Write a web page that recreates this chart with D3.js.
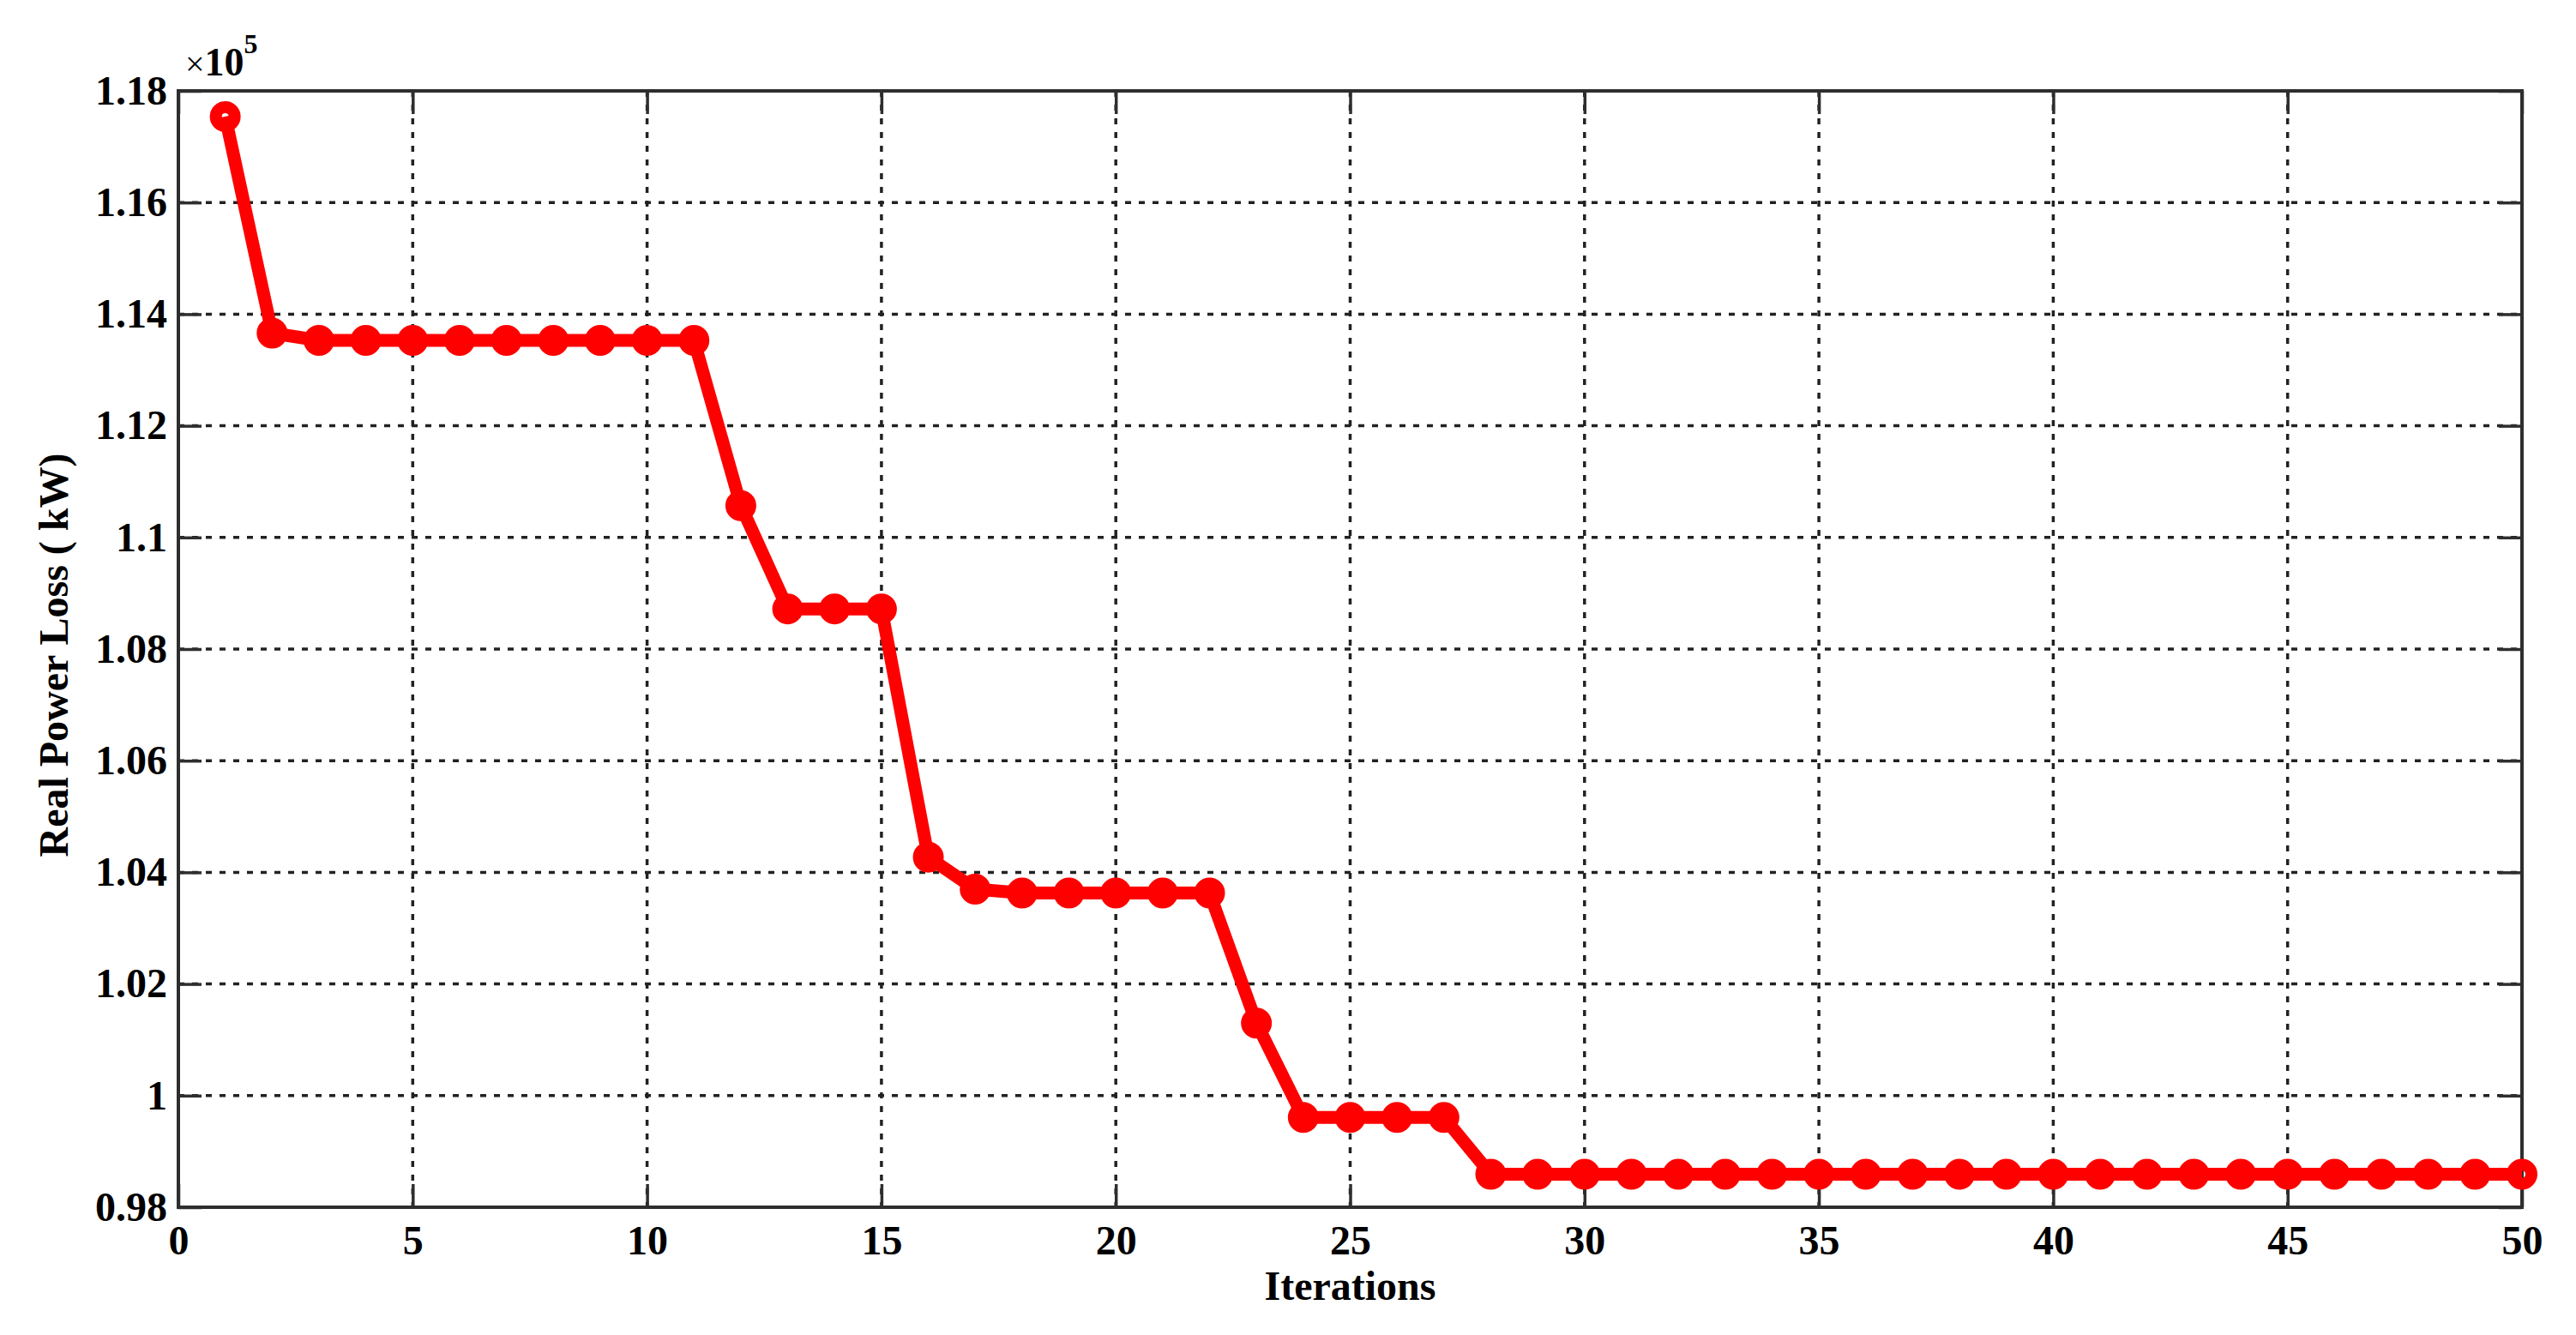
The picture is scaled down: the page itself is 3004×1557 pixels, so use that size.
<!DOCTYPE html>
<html>
<head>
<meta charset="utf-8">
<script src="https://cdn.jsdelivr.net/npm/d3@7"></script>
<style>
  body { margin: 0; background: #fff; }
  text { font-family: "Liberation Serif", "Times New Roman", serif; font-weight: bold; fill: #000; }
</style>
</head>
<body>
<svg width="3004" height="1557"></svg>
<script>
  // data (loss values in units of 1e5 kW)
  const iterations = [1, 2, 3, 4, 5, 6, 7, 8, 9, 10, 11, 12, 13, 14, 15, 16, 17, 18, 19, 20, 21, 22, 23, 24, 25,
    26, 27, 28, 29, 30, 31, 32, 33, 34, 35, 36, 37, 38, 39, 40, 41, 42, 43, 44, 45, 46, 47, 48, 49, 50];
  const lossValues = [1.1754, 1.1366, 1.1353, 1.1353, 1.1353, 1.1353, 1.1353, 1.1353, 1.1353, 1.1353, 1.1353,
    1.1057, 1.0872, 1.0872, 1.0872, 1.0427, 1.0370, 1.0363, 1.0363, 1.0363, 1.0363, 1.0363, 1.0130,
    0.9961, 0.9961, 0.9961, 0.9961,
    0.9859, 0.9859, 0.9859, 0.9859, 0.9859, 0.9859, 0.9859, 0.9859, 0.9859, 0.9859, 0.9859, 0.9859,
    0.9859, 0.9859, 0.9859, 0.9859, 0.9859, 0.9859, 0.9859, 0.9859, 0.9859, 0.9859, 0.9859];
  const xTicks = [0, 5, 10, 15, 20, 25, 30, 35, 40, 45, 50];
  const yTicks = [0.98, 1.0, 1.02, 1.04, 1.06, 1.08, 1.1, 1.12, 1.14, 1.16, 1.18];
  const yTickLabels = ["0.98", "1", "1.02", "1.04", "1.06", "1.08", "1.1", "1.12", "1.14", "1.16", "1.18"];

  const points = iterations.map((it, i) => ({ it, v: lossValues[i] }));

  const svg = d3.select("svg");
  const margin = { left: 208, right: 63, top: 106, bottom: 149 };
  const W = 3004, H = 1557;
  const axisColor = "#2e2e2e";
  const tickLen = 27;

  const x = d3.scaleLinear().domain([0, 50]).range([margin.left, W - margin.right]);
  const y = d3.scaleLinear().domain([0.98, 1.18]).range([H - margin.bottom, margin.top]);

  svg.append("rect").attr("width", W).attr("height", H).attr("fill", "#fff");

  // grid lines
  const grid = svg.append("g").attr("stroke", "#222").attr("stroke-width", 3.5).attr("stroke-dasharray", "7,9");
  grid.selectAll(".gx").data(xTicks.slice(1, -1)).enter().append("line")
    .attr("x1", d => x(d)).attr("x2", d => x(d))
    .attr("y1", y.range()[1]).attr("y2", y.range()[0]);
  grid.selectAll(".gy").data(yTicks.slice(1, -1)).enter().append("line")
    .attr("y1", d => y(d)).attr("y2", d => y(d))
    .attr("x1", x.range()[0]).attr("x2", x.range()[1]);

  // axes with inward ticks on all four sides
  const fmtY = d => yTickLabels[yTicks.indexOf(d)];
  const xBottom = svg.append("g").attr("transform", `translate(0,${y.range()[0]})`)
    .call(d3.axisBottom(x).tickValues(xTicks).tickSize(-tickLen).tickPadding(21).tickFormat(d3.format("d")));
  const xTop = svg.append("g").attr("transform", `translate(0,${y.range()[1]})`)
    .call(d3.axisTop(x).tickValues(xTicks).tickSize(-tickLen).tickFormat(""));
  const yLeft = svg.append("g").attr("transform", `translate(${x.range()[0]},0)`)
    .call(d3.axisLeft(y).tickValues(yTicks).tickSize(-tickLen).tickPadding(13).tickFormat(fmtY));
  const yRight = svg.append("g").attr("transform", `translate(${x.range()[1]},0)`)
    .call(d3.axisRight(y).tickValues(yTicks).tickSize(-tickLen).tickFormat(""));

  [xBottom, xTop, yLeft, yRight].forEach(g => {
    g.select(".domain").remove();
    g.selectAll(".tick line").attr("stroke", axisColor).attr("stroke-width", 3.5);
    g.selectAll(".tick text").attr("font-size", 48).attr("fill", "#000");
  });

  // axes box
  svg.append("rect")
    .attr("x", x.range()[0]).attr("y", y.range()[1])
    .attr("width", x.range()[1] - x.range()[0]).attr("height", y.range()[0] - y.range()[1])
    .attr("fill", "none").attr("stroke", axisColor).attr("stroke-width", 4);

  // series line
  const line = d3.line().x(d => x(d.it)).y(d => y(d.v));
  svg.append("path").datum(points)
    .attr("d", line)
    .attr("fill", "none").attr("stroke", "#ff0000").attr("stroke-width", 15)
    .attr("stroke-linejoin", "round");

  svg.append("g").selectAll("circle").data(points).enter().append("circle")
    .attr("cx", d => x(d.it)).attr("cy", d => y(d.v))
    .attr("r", 11)
    .attr("fill", "none").attr("stroke", "#ff0000").attr("stroke-width", 14);

  // exponent label
  const expo = svg.append("text").attr("x", x.range()[0] + 8).attr("y", 88).attr("font-size", 46);
  expo.append("tspan").attr("font-weight", "normal").attr("font-size", 40).text("×");
  expo.append("tspan").text("10");
  expo.append("tspan").attr("font-size", 32).attr("dy", -26).text("5");

  // axis labels
  svg.append("text")
    .attr("x", (x.range()[0] + x.range()[1]) / 2).attr("y", 1516)
    .attr("text-anchor", "middle").attr("font-size", 48)
    .text("Iterations");

  svg.append("text")
    .attr("transform", `translate(79,${(y.range()[0] + y.range()[1]) / 2 + 7}) rotate(-90)`)
    .attr("text-anchor", "middle").attr("font-size", 48)
    .text("Real Power Loss ( kW)");
</script>
</body>
</html>
